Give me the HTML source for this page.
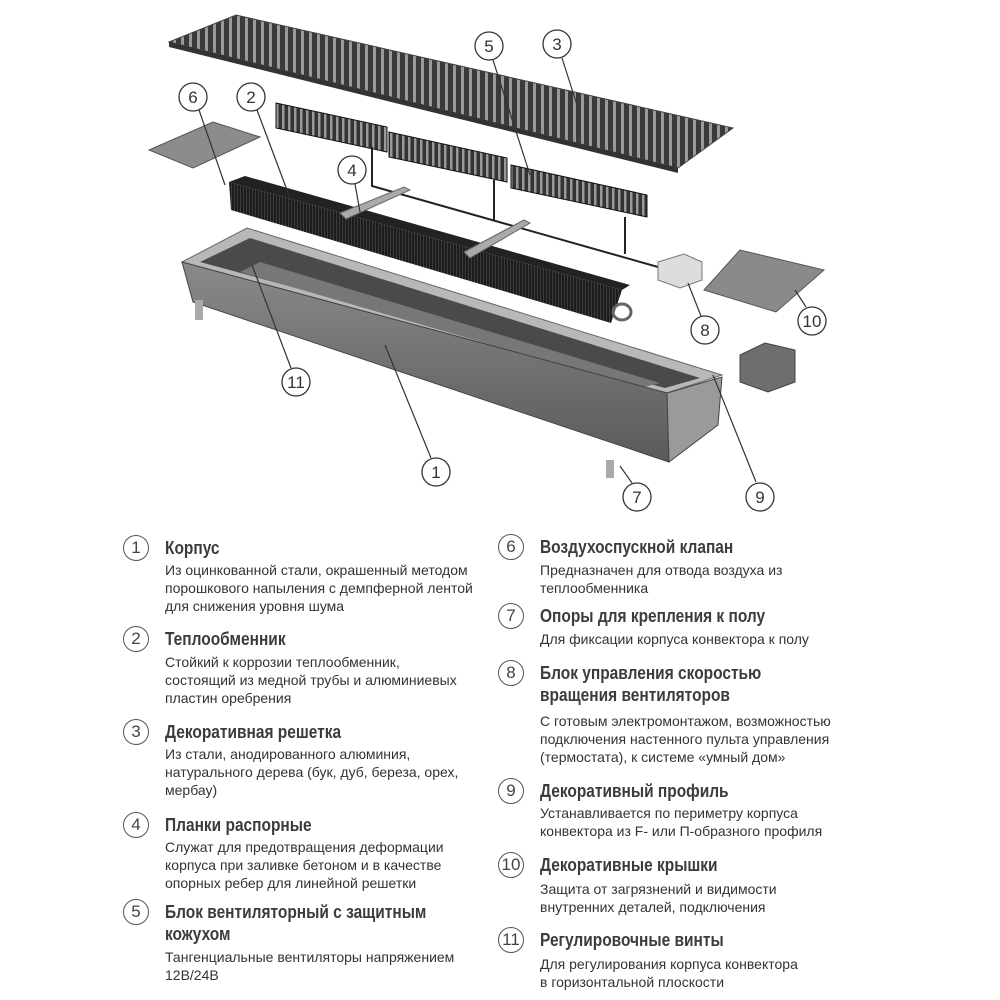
<!DOCTYPE html>
<html><head><meta charset="utf-8">
<style>
body{margin:0;width:1000px;height:1000px;background:#fff;overflow:hidden;font-family:"Liberation Sans",sans-serif;color:#444;position:relative}
.c{position:absolute;width:24px;height:24px;border:1.3px solid #555;border-radius:50%;font-size:17px;line-height:24px;text-align:center;color:#444;background:#fff}
.t{position:absolute;font-weight:bold;font-size:18px;color:#3c3c3c;line-height:22px;transform:scaleX(0.86);transform-origin:0 0;white-space:nowrap}
.d{position:absolute;font-size:14px;line-height:18px;color:#333}
</style></head><body>
<svg width="1000" height="520" style="position:absolute;left:0;top:0">
<defs>
<pattern id="gr" width="8" height="10" patternUnits="userSpaceOnUse"><rect width="8" height="10" fill="#9a9a9a"/><rect width="5" height="10" fill="#3a3a3a"/></pattern>
<pattern id="fin" width="3" height="6" patternUnits="userSpaceOnUse"><rect width="3" height="6" fill="#1c1c1c"/><rect width="1" height="6" fill="#3c3c3c"/></pattern>
<pattern id="fan" width="6" height="8" patternUnits="userSpaceOnUse"><rect width="6" height="8" fill="#333"/><rect width="2.5" height="8" fill="#999"/></pattern>
<linearGradient id="fr" x1="0" y1="0" x2="0" y2="1"><stop offset="0" stop-color="#8a8a8a"/><stop offset="1" stop-color="#5a5a5a"/></linearGradient>
</defs>
<polygon points="169,42 236,15 733,128 678,168" fill="url(#gr)" stroke="#444"/>
<polygon points="169,42 678,168 678,173 169,47" fill="#333"/>
<polygon points="149,150 213,122 260,137 193,168" fill="#8c8c8c" stroke="#555"/>
<g stroke="#111">
<polygon points="276,103 387,127 387,152 276,128" fill="url(#fan)"/>
<polygon points="389,132 507,158 507,182 389,157" fill="url(#fan)"/>
<polygon points="511,165 647,195 647,217 511,188" fill="url(#fan)"/>
</g>
<g fill="none" stroke="#222" stroke-width="2">
<polyline points="372,147 372,186 658,267"/>
<line x1="494" y1="180" x2="494" y2="220"/>
<line x1="625" y1="217" x2="625" y2="254"/>
</g>
<polygon points="658,262 684,254 702,262 702,280 680,288 658,280" fill="#ddd" stroke="#777"/>
<polygon points="704,290 740,250 824,270 776,312" fill="#8a8a8a" stroke="#555"/>
<polygon points="740,355 765,343 795,350 795,382 768,392 740,382" fill="#6e6e6e" stroke="#444"/>
<polygon points="182,262 247,228 722,375 667,393" fill="#b8b8b8" stroke="#666"/>
<polygon points="200,262 250,238 700,378 665,388" fill="#4a4a4a"/>
<polygon points="240,272 640,388 660,383 260,262" fill="#777"/>
<polygon points="182,262 667,393 669,462 193,302" fill="url(#fr)" stroke="#444"/>
<polygon points="667,393 722,377 718,425 669,462" fill="#9a9a9a" stroke="#444"/>
<polygon points="229,182 245,176 630,285 622,290" fill="#222"/>
<polygon points="229,182 622,290 611,323 231,210" fill="url(#fin)"/>
<ellipse cx="622" cy="312" rx="9" ry="8" fill="none" stroke="#666" stroke-width="3"/>
<polygon points="340,213 404,187 410,190 346,219" fill="#aaa" stroke="#666"/>
<polygon points="464,252 524,220 530,223 470,258" fill="#aaa" stroke="#666"/>
<rect x="195" y="300" width="8" height="20" fill="#aaa"/>
<rect x="606" y="460" width="8" height="18" fill="#aaa"/>
</svg>
<svg width="1000" height="520" style="position:absolute;left:0;top:0">
<g stroke="#333" stroke-width="1.2" fill="none">
<line x1="199" y1="110" x2="225" y2="185"/><line x1="257" y1="110" x2="290" y2="198"/>
<line x1="355" y1="184" x2="360" y2="212"/><line x1="493" y1="60" x2="530" y2="175"/>
<line x1="562" y1="58" x2="577" y2="105"/><line x1="701" y1="316" x2="688" y2="283"/>
<line x1="806" y1="307" x2="795" y2="290"/><line x1="291" y1="368" x2="252" y2="265"/>
<line x1="431" y1="458" x2="385" y2="345"/><line x1="632" y1="483" x2="620" y2="466"/>
<line x1="756" y1="482" x2="713" y2="375"/>
</g>
<g fill="#fff" stroke="#333" stroke-width="1.3">
<circle cx="193" cy="97" r="14"/><circle cx="251" cy="97" r="14"/><circle cx="352" cy="170" r="14"/>
<circle cx="489" cy="46" r="14"/><circle cx="557" cy="44" r="14"/><circle cx="705" cy="330" r="14"/>
<circle cx="812" cy="321" r="14"/><circle cx="296" cy="382" r="14"/><circle cx="436" cy="472" r="14"/>
<circle cx="637" cy="497" r="14"/><circle cx="760" cy="497" r="14"/>
</g>
<g font-family="Liberation Sans" font-size="17" fill="#333" text-anchor="middle">
<text x="193" y="103">6</text><text x="251" y="103">2</text><text x="352" y="176">4</text>
<text x="489" y="52">5</text><text x="557" y="50">3</text><text x="705" y="336">8</text>
<text x="812" y="327">10</text><text x="296" y="388">11</text><text x="436" y="478">1</text>
<text x="637" y="503">7</text><text x="760" y="503">9</text>
</g>
</svg>

<div class="c" style="left:123px;top:535px">1</div>
<div class="t" style="left:165px;top:537px">Корпус</div>
<div class="d" style="left:165px;top:561px">Из оцинкованной стали, окрашенный методом<br>порошкового напыления с демпферной лентой<br>для снижения уровня шума</div>

<div class="c" style="left:123px;top:626px">2</div>
<div class="t" style="left:165px;top:628px">Теплообменник</div>
<div class="d" style="left:165px;top:653px">Стойкий к коррозии теплообменник,<br>состоящий из медной трубы и алюминиевых<br>пластин оребрения</div>

<div class="c" style="left:123px;top:719px">3</div>
<div class="t" style="left:165px;top:721px">Декоративная решетка</div>
<div class="d" style="left:165px;top:745px">Из стали, анодированного алюминия,<br>натурального дерева (бук, дуб, береза, орех,<br>мербау)</div>

<div class="c" style="left:123px;top:812px">4</div>
<div class="t" style="left:165px;top:814px">Планки распорные</div>
<div class="d" style="left:165px;top:838px">Служат для предотвращения деформации<br>корпуса при заливке бетоном и в качестве<br>опорных ребер для линейной решетки</div>

<div class="c" style="left:123px;top:899px">5</div>
<div class="t" style="left:165px;top:901px">Блок вентиляторный с защитным<br>кожухом</div>
<div class="d" style="left:165px;top:948px">Тангенциальные вентиляторы напряжением<br>12В/24В</div>

<div class="c" style="left:498px;top:534px">6</div>
<div class="t" style="left:540px;top:536px">Воздухоспускной клапан</div>
<div class="d" style="left:540px;top:561px">Предназначен для отвода воздуха из<br>теплообменника</div>

<div class="c" style="left:498px;top:603px">7</div>
<div class="t" style="left:540px;top:605px">Опоры для крепления  к полу</div>
<div class="d" style="left:540px;top:630px">Для фиксации корпуса конвектора к полу</div>

<div class="c" style="left:498px;top:660px">8</div>
<div class="t" style="left:540px;top:662px">Блок управления скоростью<br>вращения вентиляторов</div>
<div class="d" style="left:540px;top:712px">С готовым электромонтажом, возможностью<br>подключения настенного пульта управления<br>(термостата), к системе «умный дом»</div>

<div class="c" style="left:498px;top:778px">9</div>
<div class="t" style="left:540px;top:780px">Декоративный профиль</div>
<div class="d" style="left:540px;top:804px">Устанавливается по периметру корпуса<br>конвектора из F- или П-образного профиля</div>

<div class="c" style="left:498px;top:852px">10</div>
<div class="t" style="left:540px;top:854px">Декоративные крышки</div>
<div class="d" style="left:540px;top:880px">Защита от загрязнений и видимости<br>внутренних деталей, подключения</div>

<div class="c" style="left:498px;top:927px">11</div>
<div class="t" style="left:540px;top:929px">Регулировочные винты</div>
<div class="d" style="left:540px;top:955px">Для регулирования корпуса конвектора<br>в горизонтальной плоскости</div>
</body></html>
